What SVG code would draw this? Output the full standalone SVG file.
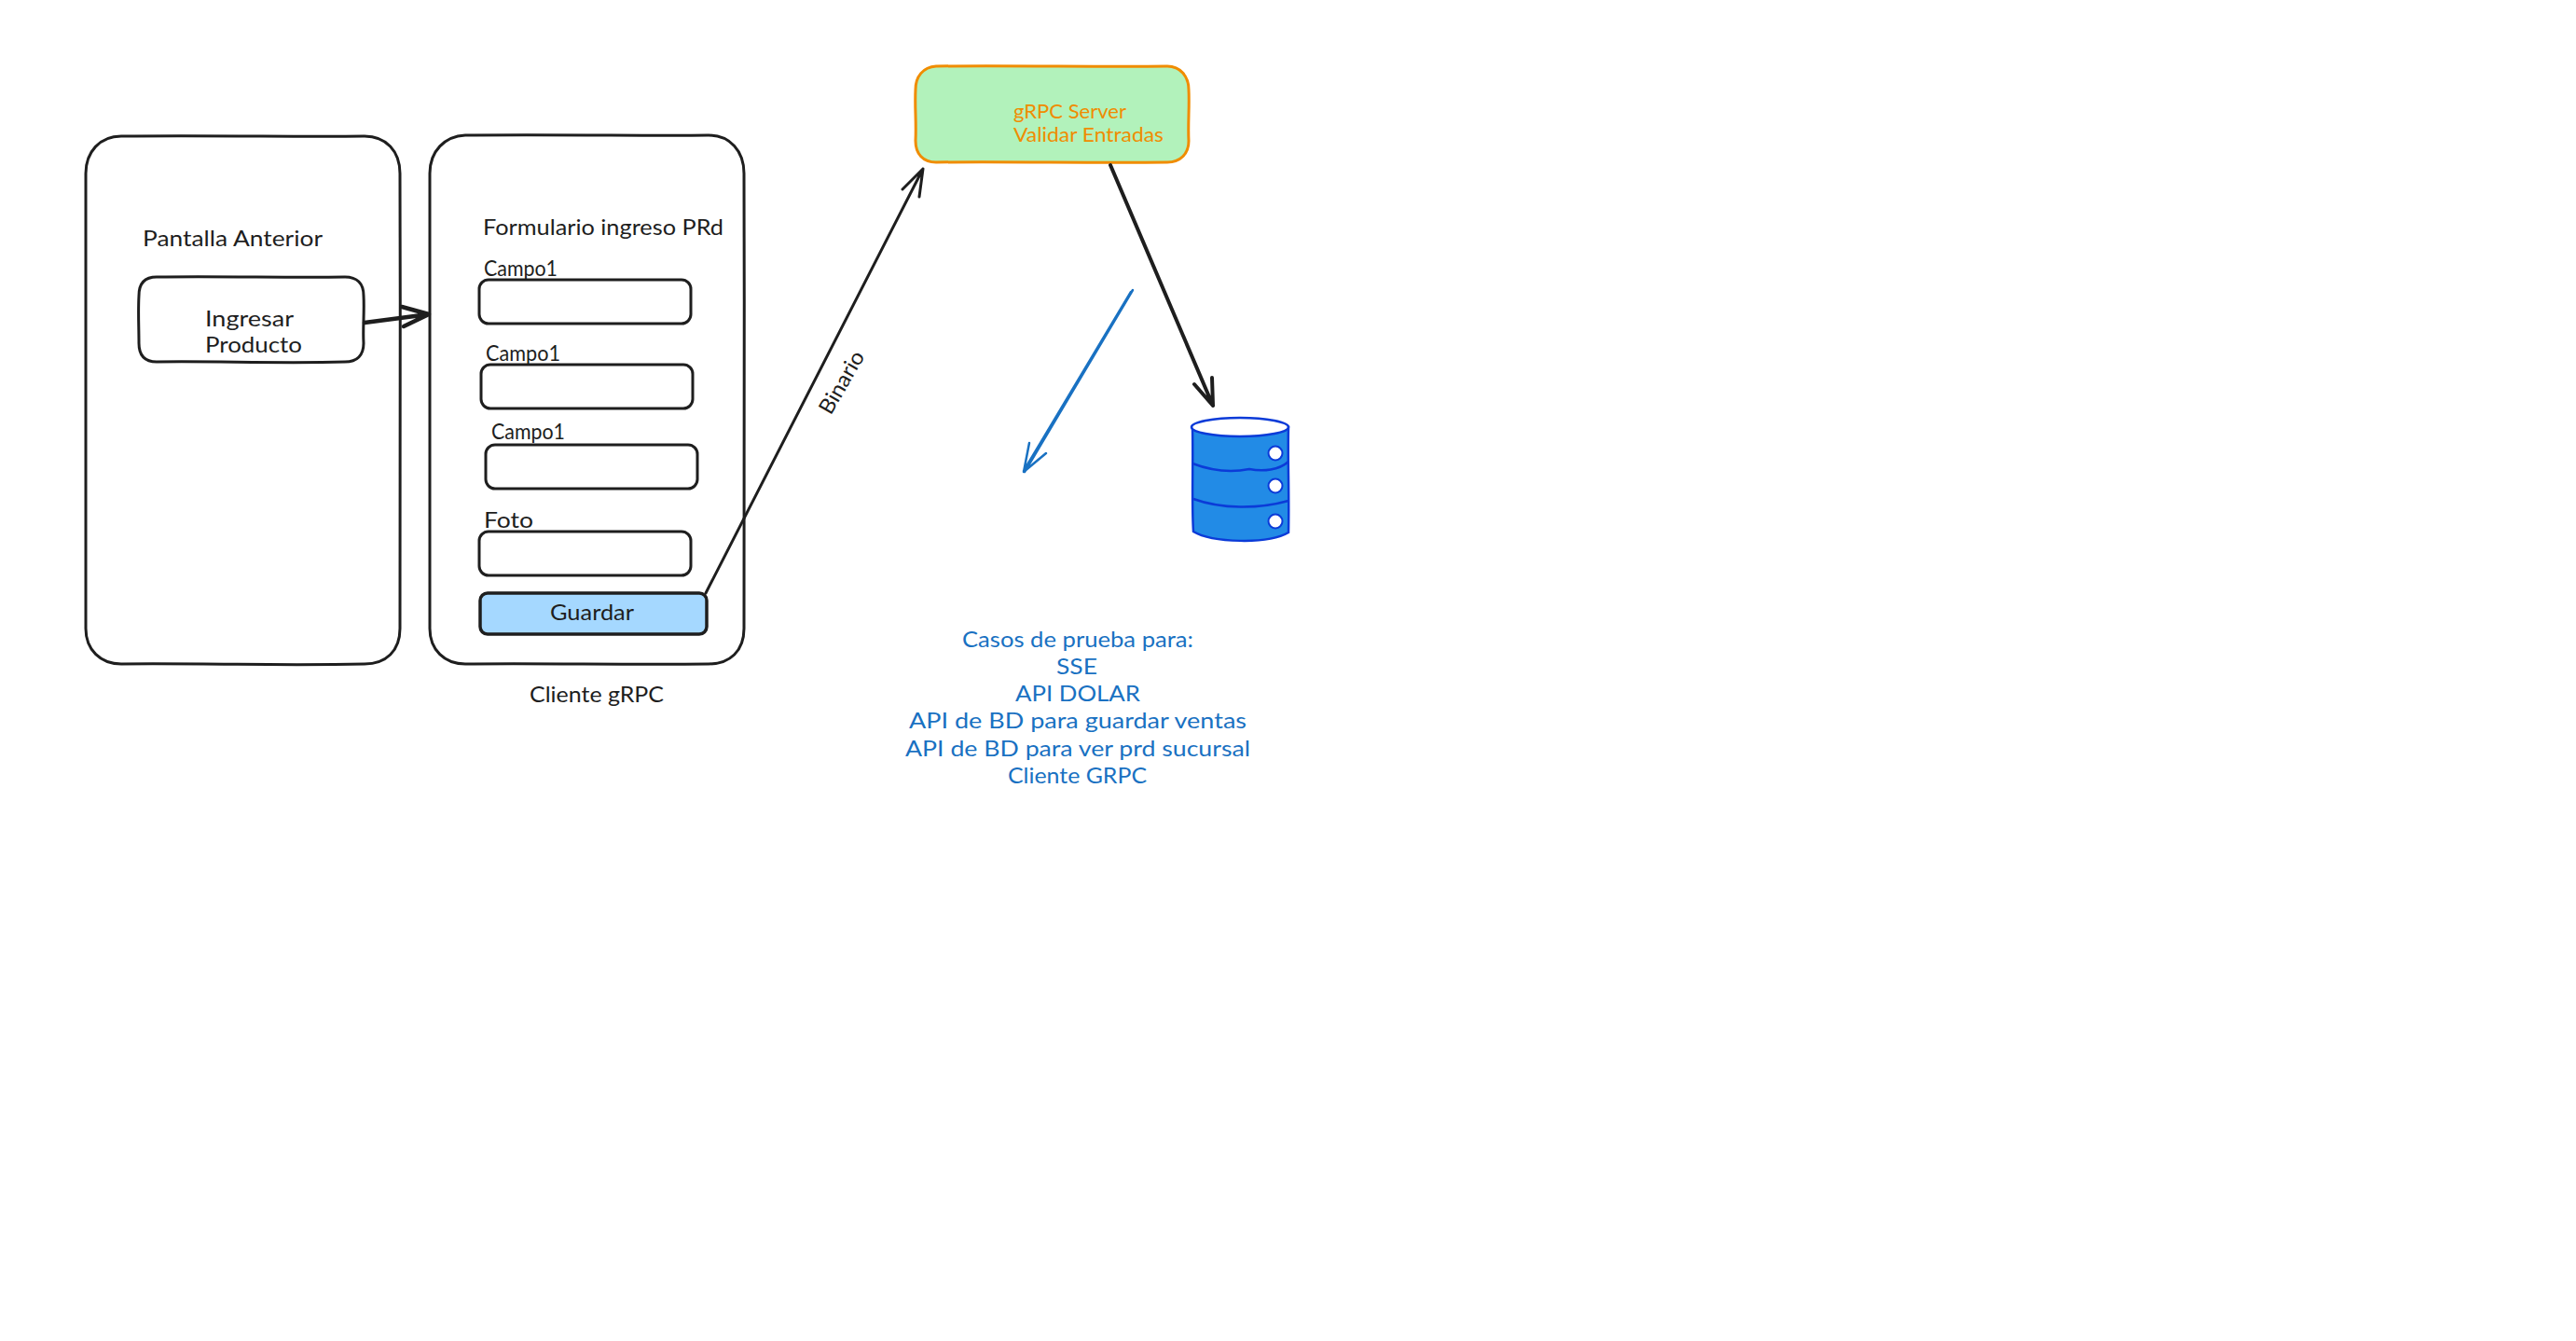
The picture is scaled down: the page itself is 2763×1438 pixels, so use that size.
<svg xmlns="http://www.w3.org/2000/svg" width="2763" height="1438" viewBox="0 0 2763 1438">
<style>
text{font-family:"Lato","Liberation Sans",sans-serif;font-size:23px;fill:#1e1e1e}
.box{fill:none;stroke:#1e1e1e;stroke-width:3;stroke-linejoin:round}
.blue{fill:#1971c2}
.or{fill:#f08c00;font-size:21px}
.conn{fill:none;stroke:#1e1e1e;stroke-linecap:round;stroke-linejoin:round}
</style>
<rect width="2763" height="1438" fill="#fff"/>
<g id="pantalla-anterior">
<path class="box" d="M130 146C240 145 320 147 391 146C414 146 429 162 429 186C430 350 428 520 429 674C429 698 414 712 391 712C300 714 210 711 130 712C108 712 92 697 92 674C93 500 91 340 92 186C92 163 107 146 130 146Z"/>
<text x="153" y="264" textLength="193" lengthAdjust="spacingAndGlyphs">Pantalla Anterior</text>
</g>
<g id="cliente-grpc">
<path class="box" d="M499 145C610 144 700 146 760 145C783 145 798 162 798 186C799 350 797 520 798 674C798 698 783 712 760 712C670 713 580 711 499 712C477 712 461 697 461 674C461 500 460 340 461 186C461 162 477 146 499 145Z"/>
<text x="518" y="252" textLength="258" lengthAdjust="spacingAndGlyphs">Formulario ingreso PRd</text>
<text x="568" y="753" textLength="144" lengthAdjust="spacingAndGlyphs">Cliente gRPC</text>
</g>
<g id="ingresar-producto">
<path class="box" d="M168 297C240 296 310 298 370 297C383 297 390 304 390 317C391 335 389 352 390 368C390 381 383 388 370 388C300 390 230 387 168 388C155 388 149 381 149 368C149 350 148 335 149 317C149 304 155 297 168 297Z"/>
<text x="220" y="350" textLength="95" lengthAdjust="spacingAndGlyphs">Ingresar</text>
<text x="220" y="378" textLength="104" lengthAdjust="spacingAndGlyphs">Producto</text>
</g>
<g id="campo-1">
<rect class="box" x="514" y="300" width="227" height="47" rx="10"/>
<text x="519" y="296" textLength="79" lengthAdjust="spacingAndGlyphs">Campo1</text>
</g>
<g id="campo-2">
<rect class="box" x="516" y="391" width="227" height="47" rx="10"/>
<text x="521" y="387" textLength="80" lengthAdjust="spacingAndGlyphs">Campo1</text>
</g>
<g id="campo-3">
<rect class="box" x="521" y="477" width="227" height="47" rx="10"/>
<text x="527" y="471" textLength="79" lengthAdjust="spacingAndGlyphs">Campo1</text>
</g>
<g id="foto">
<rect class="box" x="514" y="570" width="227" height="47" rx="10"/>
<text x="519" y="566" textLength="53" lengthAdjust="spacingAndGlyphs">Foto</text>
</g>
<g id="guardar">
<rect x="515" y="636" width="243" height="44" rx="8" fill="#a5d8ff" stroke="#1e1e1e" stroke-width="3.5"/>
<text x="590" y="665" textLength="90" lengthAdjust="spacingAndGlyphs">Guardar</text>
</g>
<g id="grpc-server">
<path d="M1004 71C1090 70 1180 72 1252 71C1266 71 1275 82 1275 96C1276 115 1274 132 1275 151C1275 165 1266 174 1252 174C1170 175 1080 173 1004 174C990 174 982 165 982 151C983 130 981 115 982 96C982 82 990 72 1004 71Z" fill="#b2f2bb" stroke="#f08c00" stroke-width="3"/>
<text class="or" x="1087" y="127" textLength="121" lengthAdjust="spacingAndGlyphs">gRPC Server</text>
<text class="or" x="1087" y="152" textLength="161" lengthAdjust="spacingAndGlyphs">Validar Entradas</text>
</g>
<g id="database">
<path d="M1279 458C1280 500 1278 540 1280 570C1300 582 1360 584 1382 571C1383 530 1381 490 1382 458Z" fill="#228be6" stroke="#0b3bd8" stroke-width="2.5"/>
<ellipse cx="1330" cy="458" rx="52" ry="10" fill="#fff" stroke="#0b3bd8" stroke-width="2.5"/>
<path d="M1279 497C1300 505 1320 507 1340 503C1355 506 1372 504 1382 495M1280 535C1310 546 1350 546 1382 537" fill="none" stroke="#0b3bd8" stroke-width="2.5"/>
<circle cx="1368" cy="486" r="7.5" fill="#fff" stroke="#0b3bd8" stroke-width="2"/>
<circle cx="1368" cy="521" r="7.5" fill="#fff" stroke="#0b3bd8" stroke-width="2"/>
<circle cx="1368" cy="559" r="7.5" fill="#fff" stroke="#0b3bd8" stroke-width="2"/>
</g>
<g id="casos-de-prueba">
<text class="blue" x="1032" y="694" textLength="248" lengthAdjust="spacingAndGlyphs">Casos de prueba para:</text>
<text class="blue" x="1133" y="723" textLength="44" lengthAdjust="spacingAndGlyphs">SSE</text>
<text class="blue" x="1089" y="752" textLength="134" lengthAdjust="spacingAndGlyphs">API DOLAR</text>
<text class="blue" x="975" y="781" textLength="362" lengthAdjust="spacingAndGlyphs">API de BD para guardar ventas</text>
<text class="blue" x="971" y="811" textLength="370" lengthAdjust="spacingAndGlyphs">API de BD para ver prd sucursal</text>
<text class="blue" x="1081" y="840" textLength="149" lengthAdjust="spacingAndGlyphs">Cliente GRPC</text>
</g>
<g id="connectors">
<path class="conn" stroke-width="4.5" d="M391 346L460 337M431 329L460 337L433 350"/>
<path class="conn" stroke-width="3" d="M757 636L990 181M968 203L990 181L986 211"/>
<path class="conn" stroke-width="4" d="M1191 177L1301 435M1281 412L1301 435L1300 405"/>
<path class="conn" style="stroke:#1971c2" stroke-width="2.5" d="M1215 311L1099 506M1213 313L1098 505M1104 475L1098 506L1122 486"/>
<text x="0" y="0" transform="translate(891 446) rotate(-60)" textLength="74" lengthAdjust="spacingAndGlyphs">Binario</text>
</g>
</svg>
